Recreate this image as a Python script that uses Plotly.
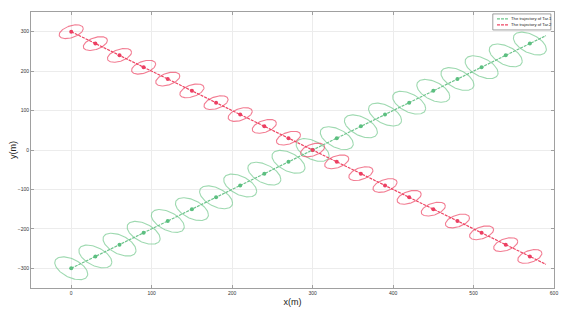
import numpy as np
import plotly.graph_objects as go

# Marker positions (m)
tar1_x = [0, 30, 60, 90, 120, 150, 180, 210, 240, 270, 300, 330, 360, 390, 420, 450, 480, 510, 540, 570]
tar1_y = [-300, -270, -240, -210, -180, -150, -120, -90, -60, -30, 0, 30, 60, 90, 120, 150, 180, 210, 240, 270]
tar2_x = [0, 30, 60, 90, 120, 150, 180, 210, 240, 270, 300, 330, 360, 390, 420, 450, 480, 510, 540, 570]
tar2_y = [300, 270, 240, 210, 180, 150, 120, 90, 60, 30, 0, -30, -60, -90, -120, -150, -180, -210, -240, -270]

# Trajectory line endpoints
tar1_line_x = [0, 590]
tar1_line_y = [-300, 290]
tar2_line_x = [0, 590]
tar2_line_y = [300, -290]

# Ellipse (uncertainty) parameters: sx, sy, correlation
ell1 = (20.5, 29.0, -0.5)
ell2 = (15.0, 17.5, 0.45)

x_ticks = [0, 100, 200, 300, 400, 500, 600]
y_ticks = [-300, -200, -100, 0, 100, 200, 300]
legend_names = ["The trajectory of Tar.1", "The trajectory of Tar.2"]

green_line = "rgba(110,196,140,1)"
green_ell = "rgba(125,204,150,0.75)"
green_mk = "#5cbf80"
red_line = "rgba(238,70,100,1)"
red_ell = "rgba(238,80,110,0.75)"
red_mk = "#ec3f62"

t = np.linspace(0, 2 * np.pi, 120)


def ellipse_trace(cx, cy, par, color):
    sx, sy, rho = par
    xs, ys = [], []
    for x0, y0 in zip(cx, cy):
        xs.extend(list(x0 + sx * np.cos(t)) + [None])
        ys.extend(list(y0 + sy * (rho * np.cos(t) + np.sqrt(1 - rho ** 2) * np.sin(t))) + [None])
    return go.Scatter(x=xs, y=ys, mode="lines", line=dict(color=color, width=1.1),
                      showlegend=False, hoverinfo="skip")


fig = go.Figure()
fig.add_trace(ellipse_trace(tar1_x, tar1_y, ell1, green_ell))
fig.add_trace(ellipse_trace(tar2_x, tar2_y, ell2, red_ell))
fig.add_trace(go.Scatter(x=tar1_line_x, y=tar1_line_y, mode="lines",
                         line=dict(color=green_line, width=1.2, dash="3px,1px"),
                         name=legend_names[0], showlegend=False))
fig.add_trace(go.Scatter(x=tar2_line_x, y=tar2_line_y, mode="lines",
                         line=dict(color=red_line, width=1.2, dash="3px,1px"),
                         name=legend_names[1], showlegend=False))
fig.add_trace(go.Scatter(x=tar1_x, y=tar1_y, mode="markers",
                         marker=dict(color=green_mk, size=4), showlegend=False))
fig.add_trace(go.Scatter(x=tar2_x, y=tar2_y, mode="markers",
                         marker=dict(color=red_mk, size=4), showlegend=False))

axis_common = dict(showline=True, linecolor="#a0a0a0", linewidth=1, mirror="ticks",
                   ticks="inside", ticklen=3, tickcolor="#a0a0a0", automargin=False,
                   showgrid=True, gridcolor="#ececec", gridwidth=1, zeroline=False,
                   tickfont=dict(size=5, color="#333", family="Liberation Sans"))

# Custom compact legend (paper coordinates)
shapes = [dict(type="rect", xref="paper", yref="paper", x0=0.883, x1=0.994, y0=0.935, y1=0.993,
               line=dict(color="#888", width=0.8), fillcolor="white", layer="above")]
annotations = []
for i, (name, col) in enumerate(zip(legend_names, [green_line, red_line])):
    yy = [0.975, 0.953][i]
    shapes.append(dict(type="line", xref="paper", yref="paper", x0=0.891, x1=0.912, y0=yy, y1=yy,
                       line=dict(color=col, width=1.2, dash="3px,1px"), layer="above"))
    annotations.append(dict(xref="paper", yref="paper", x=0.914, y=yy, text=name, showarrow=False,
                            xanchor="left", yanchor="middle",
                            font=dict(size=4.2, color="#222", family="Liberation Sans")))

# Page body adds an 8px offset; margins compensate so the plot area lands at 31..554 x 12..288
fig.update_layout(
    width=581, height=312,
    margin=dict(l=23, r=35, t=4, b=32),
    paper_bgcolor="white", plot_bgcolor="white",
    xaxis=dict(range=[-50, 600], tickvals=x_ticks,
               title=dict(text="x(m)", font=dict(size=9, color="#222", family="Liberation Sans"), standoff=3),
               **axis_common),
    yaxis=dict(range=[-350, 350], tickvals=y_ticks,
               title=dict(text="y(m)", font=dict(size=9, color="#222", family="Liberation Sans"), standoff=9),
               **axis_common),
    shapes=shapes,
    annotations=annotations,
    showlegend=False,
)

fig.write_html("out.html")
